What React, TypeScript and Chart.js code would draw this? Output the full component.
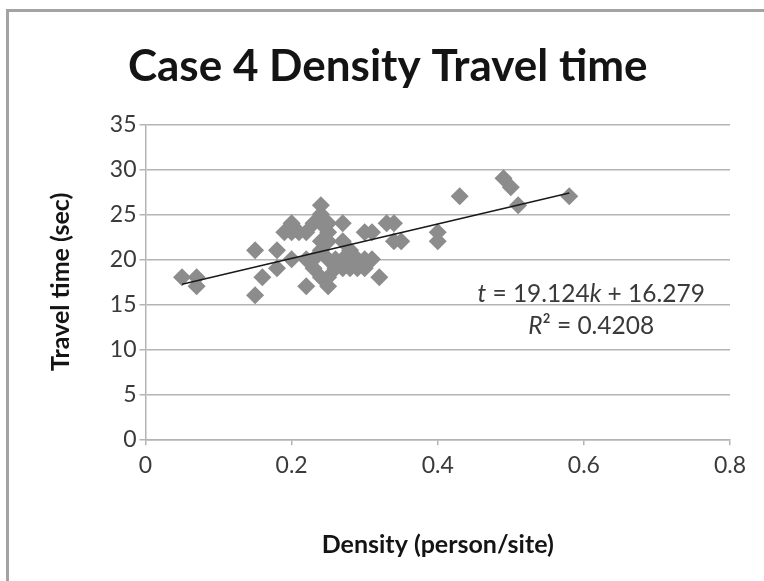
import { useEffect, useRef } from 'react';
import { Chart, registerables } from 'chart.js';

Chart.register(...registerables);

// Observed density (person/site) and travel time (sec) pairs
const densityValues = [
  0.05, 0.07, 0.07,
  0.15, 0.15, 0.16,
  0.18, 0.18,
  0.19, 0.2, 0.2, 0.21, 0.2,
  0.22, 0.22, 0.22,
  0.23, 0.23, 0.23,
  0.24, 0.24, 0.24, 0.24, 0.24, 0.24,
  0.25, 0.25, 0.25, 0.25, 0.25, 0.25,
  0.26, 0.26,
  0.27, 0.27, 0.27, 0.27,
  0.28, 0.28, 0.28,
  0.29, 0.29,
  0.3, 0.3, 0.3,
  0.31, 0.31,
  0.32,
  0.33, 0.34, 0.34, 0.35,
  0.4, 0.4,
  0.43, 0.49, 0.5, 0.51, 0.58,
];
const travelTimes = [
  18, 18, 17,
  21, 16, 18,
  21, 19,
  23, 24, 20, 23, 23,
  17, 20, 23,
  24, 20, 19,
  26, 25, 24, 21, 18, 22,
  23, 24, 17, 18, 20, 22,
  19, 20,
  24, 22, 20, 19,
  19, 20, 21,
  20, 19,
  23, 20, 19,
  23, 20,
  18,
  24, 24, 22, 22,
  23, 22,
  27, 29, 28, 26, 27,
];

// Linear trend: t = slope * k + intercept
const trendSlope = 19.124;
const trendIntercept = 16.279;
const trendRSquared = 0.4208;
const trendSpan = [0.05, 0.58];

const xTickValues = [0, 0.2, 0.4, 0.6, 0.8];
const yTickValues = [0, 5, 10, 15, 20, 25, 30, 35];

const FONT = 'Lato, "Open Sans", sans-serif';
const GRID = '#b4b4b4';
const TEXT = '#3a3a3a';

type Seg = { t: string; italic: boolean };

function drawSegments(ctx: CanvasRenderingContext2D, segs: Seg[], cx: number, cy: number, size: number) {
  const fontFor = (s: Seg) => `${s.italic ? 'italic ' : ''}${size}px ${FONT}`;
  let total = 0;
  const widths = segs.map((s) => {
    ctx.font = fontFor(s);
    const w = ctx.measureText(s.t).width;
    total += w;
    return w;
  });
  let x = cx - total / 2;
  segs.forEach((s, i) => {
    ctx.font = fontFor(s);
    ctx.fillText(s.t, x, cy);
    x += widths[i];
  });
}

const equationLabel = {
  id: 'equationLabel',
  afterDatasetsDraw(chart: any) {
    const { ctx, scales } = chart;
    const cx = scales.x.getPixelForValue(0.61);
    const y1 = scales.y.getPixelForValue(16.1);
    const y2 = scales.y.getPixelForValue(12.6);
    ctx.save();
    ctx.fillStyle = TEXT;
    ctx.textAlign = 'left';
    ctx.textBaseline = 'middle';
    drawSegments(ctx, [
      { t: 't', italic: true },
      { t: ` = ${trendSlope.toFixed(3)}`, italic: false },
      { t: 'k', italic: true },
      { t: ` + ${trendIntercept.toFixed(3)}`, italic: false },
    ], cx, y1, 24.5);
    drawSegments(ctx, [
      { t: 'R', italic: true },
      { t: `² = ${trendRSquared.toFixed(4)}`, italic: false },
    ], cx, y2, 24.5);
    ctx.restore();
  },
};

export default function App() {
  const canvasRef = useRef<HTMLCanvasElement | null>(null);

  useEffect(() => {
    const canvas = canvasRef.current;
    if (!canvas) return;

    const points = densityValues.map((k, i) => ({ x: k, y: travelTimes[i] }));
    const trend = trendSpan.map((k) => ({ x: k, y: trendSlope * k + trendIntercept }));

    const chart = new Chart(canvas, {
      type: 'scatter',
      data: {
        datasets: [
          {
            type: 'line',
            label: 'Linear trend',
            data: trend,
            borderColor: '#1a1a1a',
            borderWidth: 1.6,
            pointRadius: 0,
            fill: false,
            order: 0,
          } as any,
          {
            label: 'Travel time',
            data: points,
            pointStyle: 'rectRot',
            pointRadius: 9,
            pointHoverRadius: 9,
            backgroundColor: '#8c8c8c',
            borderColor: '#8c8c8c',
            borderWidth: 0,
            order: 1,
          },
        ],
      },
      options: {
        animation: false,
        responsive: false,
        events: [],
        layout: { padding: { left: 45.5, right: 34, top: 0, bottom: 0 } },
        plugins: {
          legend: { display: false },
          tooltip: { enabled: false },
          title: {
            display: true,
            text: 'Case 4 Density Travel time',
            color: '#141414',
            font: { family: FONT, size: 44, weight: 'bold' },
            padding: { top: 40, bottom: 31.5 },
          },
        },
        scales: {
          x: {
            type: 'linear',
            min: 0,
            max: 0.8,
            afterBuildTicks: (scale: any) => {
              scale.ticks = xTickValues.map((v) => ({ value: v }));
            },
            afterFit: (scale: any) => {
              scale.height = 581 - 439.3;
            },
            ticks: {
              color: TEXT,
              font: { family: FONT, size: 23 },
              padding: 6,
              maxRotation: 0,
              callback: (v: any) => String(v),
            },
            grid: { color: 'rgba(0,0,0,0)', tickColor: GRID, tickLength: 6, lineWidth: 1.5, drawTicks: true },
            border: { display: true, color: GRID, width: 1.5 },
            title: {
              display: true,
              text: 'Density (person/site)',
              color: '#141414',
              font: { family: FONT, size: 25, weight: 'bold' },
              padding: { top: 0, bottom: 21 },
            },
          },
          y: {
            type: 'linear',
            min: 0,
            max: 35,
            afterBuildTicks: (scale: any) => {
              scale.ticks = yTickValues.map((v) => ({ value: v }));
            },
            afterFit: (scale: any) => {
              scale.width = 100;
            },
            ticks: {
              color: TEXT,
              font: { family: FONT, size: 23 },
              padding: 3,
              callback: (v: any) => String(v),
            },
            grid: { color: GRID, tickColor: GRID, tickLength: 6, lineWidth: 1.5, drawTicks: true },
            border: { display: true, color: GRID, width: 1.5 },
            title: {
              display: true,
              text: 'Travel time (sec)',
              color: '#141414',
              font: { family: FONT, size: 25, weight: 'bold' },
              padding: { top: 0, bottom: 0 },
            },
          },
        },
      },
      plugins: [equationLabel],
    });

    return () => chart.destroy();
  }, []);

  return (
    <div style={{ position: 'fixed', left: 0, top: 0, width: 764, height: 581, background: '#ffffff', overflow: 'hidden' }}>
      <canvas ref={canvasRef} width={764} height={581} style={{ position: 'absolute', left: 0, top: 0, width: 764, height: 581 }} />
      <div style={{ position: 'absolute', left: 6, top: 9, width: 758, height: 3, background: '#a3a3a3' }} />
      <div style={{ position: 'absolute', left: 6, top: 9, width: 2.5, height: 572, background: '#a3a3a3' }} />
    </div>
  );
}
